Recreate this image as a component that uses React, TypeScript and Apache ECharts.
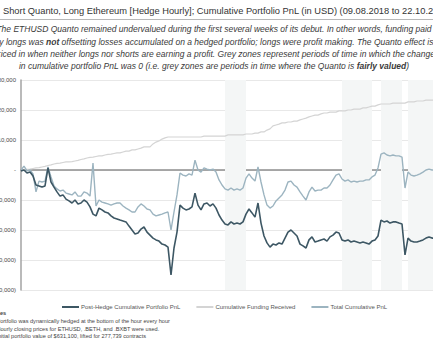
import React, { useEffect, useRef } from "react";
import * as echarts from "echarts";

const FONT = '"Liberation Sans", Arial, sans-serif';

const postHedge = [
  -300, 0, -1000, -700, -2000, -5000, -5300, -5700, -5300, 700,
  -4000, -5700, -7300, -8700, -8300, -9700, -10300, -11000, -10000, -11300,
  -11000, -10000, -10700, -12300, -14700, -15300, -12700, -13300, -14000, -14300,
  -15300, -16000, -16300, -16700, -17000, -17300, -18700, -20000, -21300, -21000,
  -19700, -19000, -20700, -21700, -22700, -23300, -23700, -24700, -25000, -25700,
  -35000, -26000, -20700, -11700, -12700, -13300, -13000, -12300, -7700, -11700,
  -13300, -11300, -11000, -12000, -11300, -12700, -15000, -16700, -18000, -18300,
  -17300, -18000, -17700, -18000, -17300, -14700, -13000, -14300, -15700, -11000,
  -17700, -22000, -24300, -25700, -24700, -25000, -24300, -24700, -22700, -20700,
  -20000, -21000, -22000, -24700, -25300, -26000, -23300, -22300, -24000, -23700,
  -23300, -23000, -23700, -22300, -21700, -20700, -21000, -23300, -23700, -23300,
  -24000, -23700, -24000, -24300, -24000, -24300, -24700, -23700, -23300, -22000,
  -16700, -17300, -17000, -17700, -17300, -17300, -17700, -18000, -28300, -22700,
  -23700, -24000, -24000, -23700, -23300, -22700, -22300, -22700, -22700,
];

const funding = [
  0, 100, 200, 300, 500, 700, 800, 1000, 1200, 1500,
  1700, 2000, 2200, 2300, 2500, 2700, 2700, 2800, 3000, 3200,
  3500, 3700, 4000, 4200, 4300, 4500, 4700, 4700, 5000, 5200,
  5300, 5500, 5700, 5700, 6000, 6300, 6300, 6700, 6700, 7000,
  7300, 7700, 7700, 7700, 8700, 9300, 9700, 10300, 10700, 11000,
  11000, 11000, 11000, 11000, 11000, 11000, 11000, 11000, 11000, 11000,
  11000, 11300, 11300, 11300, 11300, 11300, 11300, 11300, 11300, 11700,
  11700, 11700, 11700, 11700, 11700, 12000, 12000, 12000, 12300, 12300,
  12700, 12700, 13300, 13700, 14700, 15000, 15300, 15700, 15700, 16000,
  16000, 16300, 16300, 16700, 17000, 17300, 17700, 18000, 18300, 18300,
  18700, 19000, 19000, 19300, 19300, 19300, 19700, 19700, 19700, 20000,
  20000, 20300, 20300, 20300, 20700, 20700, 21000, 21300, 21300, 21700,
  22000, 22000, 22000, 22000, 22300, 22300, 22300, 22300, 22300, 22700,
  22700, 22700, 23000, 23000, 23000, 23300, 23300, 23300, 23300,
];

const totalPnl = [
  0, 1300, -300, 0, -1300, -7300, -3700, -4000, -3700, 1000,
  -2300, -5300, -6300, -7000, -6700, -7700, -8000, -8300, -7300, -8700,
  -8700, -7300, -7700, -8700, 2300, -12000, -10000, -10700, -11000, -11300,
  -11700, -11300, -11000, -11000, -12000, -12700, -13300, -14000, -14000, -12300,
  -11300, -12000, -13000, -13300, -14700, -15300, -15000, -14700, -14300, -14000,
  -20000, -14000, -8300, -1000, -1700, -2000, -1300, -1700, 3300, 0,
  -700, 700, 300, 0, 300, -700, -3300, -5000, -6300, -6700,
  -6000, -6700, -6300, -6700, -6000, -2700, -1300, -2700, -3700, 1000,
  -4000, -8300, -11700, -12700, -12000, -10300, -9300, -8300, -6700, -4000,
  -3700, -5000, -5700, -7300, -8700, -10000, -7300, -5700, -7000, -6700,
  -6700, -6000, -6000, -5000, -3300, -1700, -1300, -3000, -3700, -3300,
  -4000, -3700, -4000, -3700, -3700, -3300, -3300, -2300, -1700, 700,
  5300, 5700, 5000, 4700, 5000, 4700, 4700, 4300, -6000, -700,
  -1700, -2000, -1700, -1300, -700, 0, 300, 0, 0,
];

// grey zones (periods where the change in cumulative PnL was 0), as index ranges
const greyZones: [number, number][] = [
  [68, 75],
  [107, 117],
  [120, 127],
  [129, 138],
];

const yTicks = { min: -40000, max: 30000, interval: 10000 };

const legendNames = [
  "Post-Hedge Cumulative Portfolio PnL",
  "Cumulative Funding Received",
  "Total Cumulative PnL",
];

const titleText =
  "Short Quanto, Long Ethereum [Hedge Hourly]; Cumulative Portfolio PnL (in USD) (09.08.2018 to 22.10.2018)";

const notes = [
  "Portfolio was dynamically hedged at the bottom of the hour every hour",
  "Hourly closing prices for ETHUSD, .BETH, and .BXBT were used.",
  "Initial portfolio value of $631,100, lifted for 277,739 contracts",
];

// 12-hour steps starting 09.08.2018
const categories: string[] = postHedge.map((_, i) => {
  const d = new Date(Date.UTC(2018, 7, 9, 0) + i * 12 * 3600 * 1000);
  return d.toISOString().slice(0, 13);
});

export default function App() {
  const ref = useRef<HTMLDivElement>(null);
  useEffect(() => {
    document.body.style.margin = "0";
    if (!ref.current) return;
    const chart = echarts.init(ref.current, undefined, { renderer: "svg" });
    const fmt = (v: number) => {
      if (v === 0) return "-";
      const s = Math.abs(v).toLocaleString("en-US");
      return v < 0 ? "(" + s + ")" : s;
    };
    const SUB = 8.5;
    const italicRich = {
      i: { fontStyle: "italic", fontSize: SUB, fontFamily: FONT, fill: "#3a3a3a" },
      b: { fontStyle: "italic", fontWeight: "bold", fontSize: SUB, fontFamily: FONT, fill: "#3a3a3a" },
    };
    const subLines = [
      "{i|The ETHUSD Quanto remained undervalued during the first several weeks of its debut. In other words, funding paid}",
      "{i|by longs was }{b|not}{i| offsetting losses accumulated on a hedged portfolio; longs were profit making. The Quanto effect is}",
      "{i|priced in when neither longs nor shorts are earning a profit. Grey zones represent periods of time in which the change}",
      "{i|in cumulative portfolio PnL was 0 (i.e. grey zones are periods in time where the Quanto is }{b|fairly valued}{i|)}",
    ];
    const subY = [29, 41.5, 54, 66];
    chart.setOption({
      animation: false,
      textStyle: { fontFamily: FONT },
      grid: {
        left: 21,
        top: 80,
        width: 414,
        height: 210,
        containLabel: false,
        outerBoundsMode: "none",
      },
      xAxis: {
        type: "category",
        data: categories,
        boundaryGap: false,
        axisLine: { show: true, onZero: true, lineStyle: { color: "#8e8e8e", width: 1.5 } },
        axisTick: { show: false },
        axisLabel: { show: false },
        splitLine: { show: false },
      },
      yAxis: {
        type: "value",
        min: yTicks.min,
        max: yTicks.max,
        interval: yTicks.interval,
        axisLine: { show: true, lineStyle: { color: "#a3a3a3", width: 1.5 } },
        axisTick: { show: false },
        axisLabel: { fontSize: 6, color: "#4a4a4a", margin: 5, formatter: fmt, fontFamily: FONT },
        splitLine: { show: true, lineStyle: { color: "#e8e8e8", width: 1 } },
      },
      legend: {
        data: legendNames,
        left: 57,
        top: 299,
        itemWidth: 17,
        itemHeight: 2,
        itemGap: 16,
        icon: "rect",
        textStyle: { fontSize: 6, color: "#555", fontFamily: FONT, padding: [0, 0, 0, -3] },
      },
      series: [
        {
          type: "line",
          name: "zones",
          data: [],
          silent: true,
          z: 1,
          markArea: {
            silent: true,
            itemStyle: { color: "#f4f6f6" },
            data: greyZones.map(([a, b]) => [{ xAxis: a }, { xAxis: b }]),
          },
        },
        {
          type: "line",
          name: legendNames[1],
          data: funding,
          showSymbol: false,
          symbol: "none",
          color: "#d4d4d4",
          lineStyle: { color: "#d4d4d4", width: 1.2 },
          z: 3,
        },
        {
          type: "line",
          name: legendNames[2],
          data: totalPnl,
          showSymbol: false,
          symbol: "none",
          color: "#9cb4c0",
          lineStyle: { color: "#9cb4c0", width: 1.4 },
          z: 4,
        },
        {
          type: "line",
          name: legendNames[0],
          data: postHedge,
          showSymbol: false,
          symbol: "none",
          color: "#3d5764",
          lineStyle: { color: "#3d5764", width: 1.6 },
          z: 5,
        },
      ],
      graphic: [
        {
          type: "text",
          style: {
            x: 3,
            y: 11,
            text: titleText,
            fontSize: 9.3,
            fontFamily: FONT,
            fill: "#333",
            textVerticalAlign: "middle",
          },
        },
        {
          type: "line",
          shape: { x1: 0, y1: 19.5, x2: 433, y2: 19.5 },
          style: { stroke: "#b8b8b8", lineWidth: 1 },
        },
        ...subLines.map((t, k) => ({
          type: "text",
          style: {
            x: 214,
            y: subY[k],
            text: t,
            rich: italicRich,
            textAlign: "center",
            textVerticalAlign: "middle",
          },
        })),
        {
          type: "text",
          style: {
            x: -9.4,
            y: 313,
            text: "Notes",
            fontSize: 5.6,
            fontWeight: "bold",
            fontFamily: FONT,
            fill: "#444",
            textVerticalAlign: "middle",
          },
        },
        ...notes.map((t, k) => ({
          type: "text",
          style: {
            x: -3.6,
            y: 321 + k * 7.5,
            text: t,
            fontSize: 5.6,
            fontFamily: FONT,
            fill: "#444",
            textVerticalAlign: "middle",
          },
        })),
      ],
    });
    return () => chart.dispose();
  }, []);
  return <div ref={ref} style={{ width: 433, height: 350 }} />;
}
